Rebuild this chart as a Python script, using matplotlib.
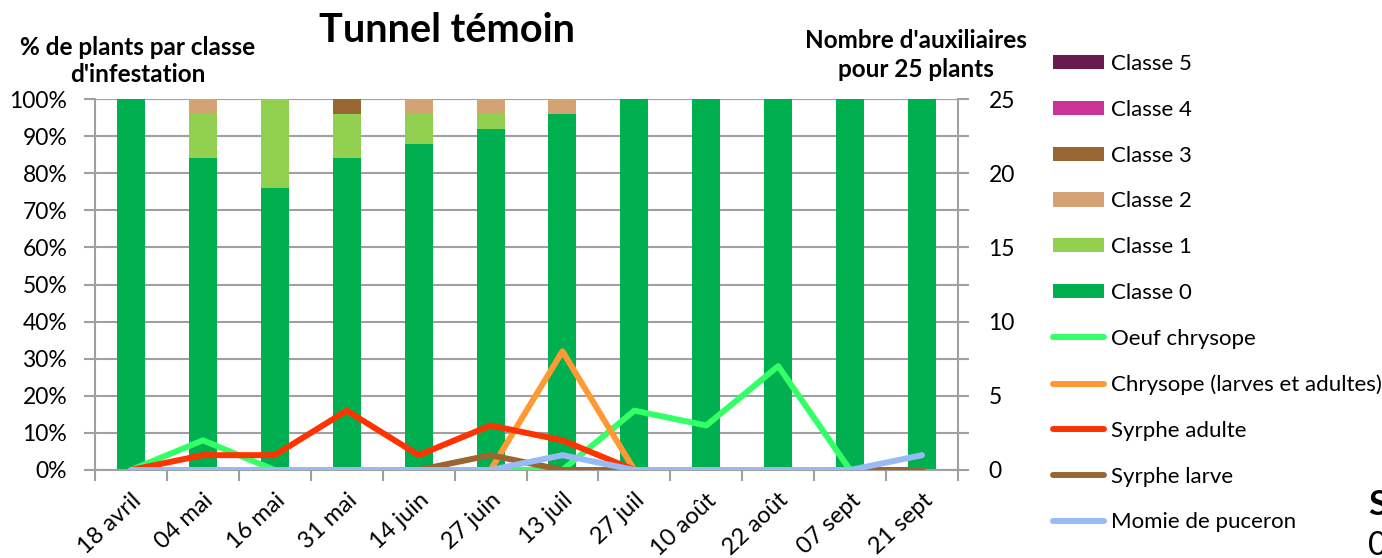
import matplotlib.pyplot as plt
import numpy as np

plt.rcParams['font.family'] = ['Lato', 'DejaVu Sans']

dates = ['18 avril', '04 mai', '16 mai', '31 mai', '14 juin', '27 juin',
         '13 juil', '27 juil', '10 août', '22 août', '07 sept', '21 sept']

# % of plants per infestation class
classe0 = [100, 84, 76, 84, 88, 92, 96, 100, 100, 100, 100, 100]
classe1 = [0, 12, 24, 12, 8, 4, 0, 0, 0, 0, 0, 0]
classe2 = [0, 4, 0, 0, 4, 4, 4, 0, 0, 0, 0, 0]
classe3 = [0, 0, 0, 4, 0, 0, 0, 0, 0, 0, 0, 0]
classe4 = [0, 0, 0, 0, 0, 0, 0, 0, 0, 0, 0, 0]
classe5 = [0, 0, 0, 0, 0, 0, 0, 0, 0, 0, 0, 0]

# number of beneficials per 25 plants
oeuf_chrysope = [0, 2, 0, 0, 0, 0, 0, 4, 3, 7, 0, 0]
chrysope = [0, 0, 0, 0, 0, 0, 8, 0, 0, 0, 0, 0]
syrphe_adulte = [0, 1, 1, 4, 1, 3, 2, 0, 0, 0, 0, 0]
syrphe_larve = [0, 0, 0, 0, 0, 1, 0, 0, 0, 0, 0, 0]
momie = [0, 0, 0, 0, 0, 0, 1, 0, 0, 0, 0, 1]

class_names = ['Classe 0', 'Classe 1', 'Classe 2', 'Classe 3', 'Classe 4', 'Classe 5']
class_colors = ['#00B050', '#92D050', '#D4A373', '#996633', '#CC3399', '#6B1A4F']
line_names = ['Oeuf chrysope', 'Chrysope (larves et adultes)', 'Syrphe adulte',
              'Syrphe larve', 'Momie de puceron']
line_colors = ['#33FF66', '#FF9933', '#FF3300', '#996633', '#99BBF5']

fig = plt.figure(figsize=(13.82, 5.58), dpi=100)
ax = fig.add_axes([95 / 1382, 1 - 470 / 558, 863 / 1382, 371 / 558])
x = np.arange(len(dates))

grid_c = '#A0A0A0'
bottom = np.zeros(len(dates))
bar_handles = []
for vals, name, col in zip([classe0, classe1, classe2, classe3, classe4, classe5],
                           class_names, class_colors):
    b = ax.bar(x, vals, 0.39, bottom=bottom, color=col, label=name, zorder=2)
    bar_handles.append(b)
    bottom += np.array(vals)

ax.set_xlim(-0.5, 11.5)
ax.set_ylim(0, 100)
ax.set_yticks(np.arange(0, 101, 10))
ax.set_yticklabels([f'{v}%' for v in range(0, 101, 10)], fontsize=16.5)
ax.yaxis.grid(True, color=grid_c, linewidth=1.5, zorder=0)
ax.set_axisbelow(True)
ax.set_xticks(x)
ax.set_xticklabels(dates, rotation=43, ha='right', rotation_mode='anchor', fontsize=17)
ax.set_xticks(np.arange(-0.5, 12, 1), minor=True)
ax.tick_params(axis='x', which='major', length=0, pad=14)
ax.tick_params(axis='x', which='minor', length=8, color=grid_c, width=1.5)
ax.tick_params(axis='y', length=8, color=grid_c, width=1.5, pad=12)
for s in ['left', 'bottom', 'right']:
    ax.spines[s].set_color(grid_c)
    ax.spines[s].set_linewidth(1.5)
ax.spines['top'].set_visible(False)

ax2 = ax.twinx()
line_handles = []
for vals, name, col in zip([oeuf_chrysope, chrysope, syrphe_adulte, syrphe_larve, momie],
                           line_names, line_colors):
    l, = ax2.plot(x, vals, color=col, linewidth=4.3, label=name, solid_capstyle='round')
    line_handles.append(l)
ax2.set_ylim(0, 25)
ax2.set_yticks(np.arange(0, 26, 5))
ax2.set_yticks(np.arange(0, 26, 2.5), minor=True)
ax2.tick_params(axis='y', which='both', length=8, color=grid_c, width=1.5, pad=14, labelsize=16.5)
for s in ['left', 'bottom', 'right', 'top']:
    ax2.spines[s].set_visible(False)

fig.text(447 / 1382, 1 - 30 / 558, 'Tunnel témoin', fontsize=28.5, fontweight='bold',
         ha='center', va='center')
fig.text(138 / 1382, 1 - 61 / 558, "% de plants par classe\nd'infestation", fontsize=17.5,
         fontweight='bold', ha='center', va='center', linespacing=1.2)
fig.text(916 / 1382, 1 - 55 / 558, "Nombre d'auxiliaires\npour 25 plants", fontsize=17.5,
         fontweight='bold', ha='center', va='center', linespacing=1.35)

handles = bar_handles[::-1] + line_handles
labels = class_names[::-1] + line_names
fig.legend(handles, labels, loc='upper left', bbox_to_anchor=(1053 / 1382, 1 - 54 / 558),
           frameon=False, fontsize=16, handlelength=2.3, handleheight=0.6,
           handletextpad=0.3, labelspacing=1.16, borderpad=0, borderaxespad=0)

fig.text(1368 / 1382, 1 - 505 / 558, 'S', fontsize=25, fontweight='bold', va='center')
fig.text(1368 / 1382, 1 - 546 / 558, '0', fontsize=24, va='center')

fig.savefig('out.png', dpi=100)
